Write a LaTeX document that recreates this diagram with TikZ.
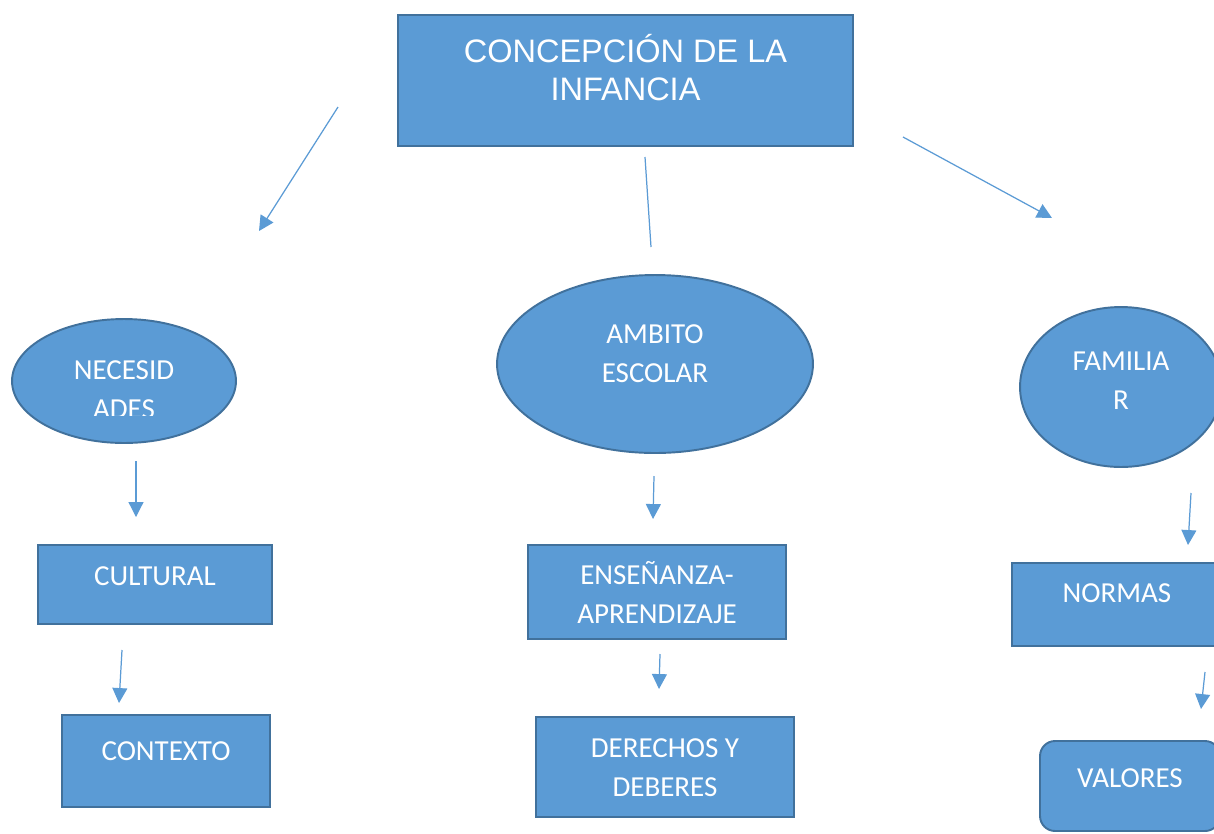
\documentclass[tikz,border=0pt]{standalone}
\usepackage{fontspec}
\setmainfont{Carlito}
\newfontfamily\arialfont{Liberation Sans}
\usetikzlibrary{arrows.meta,shapes.geometric}
\definecolor{boxblue}{HTML}{5B9BD5}
\definecolor{boxedge}{HTML}{41719C}
\tikzset{
	caja/.style={draw=boxedge, fill=boxblue, line width=1.1pt, inner sep=0pt},
	elipse/.style={caja, ellipse},
	rotulo/.style={text=white, font=\fontsize{16.5}{22}\selectfont, align=center, anchor=base},
	flecha/.style={draw=boxblue, line width=0.7pt, -{Triangle[length=8.5pt,width=8.5pt]}},
	linea/.style={draw=boxblue, line width=0.7pt}
}

\begin{document}
\begin{tikzpicture}[x=0.02cm, y=-0.02cm]
		%%%%% START %%%%%
		\clip (0,0) rectangle (1214,833);
		\fill[white] (0,0) rectangle (1214,833);
		
		\node[caja, minimum width=9.1cm, minimum height=2.62cm] (concepcion) at (625.5,80.5) {};
		\node[rotulo, font=\arialfont\fontsize{18.5}{21.6}\selectfont] (concepciontxt) at (625.5,100) {CONCEPCIÓN DE LA\\INFANCIA};
		
		\node[elipse, minimum width=4.48cm, minimum height=2.48cm] (necesidades) at (124,381) {};
		\begin{scope}
			\clip (0,300) rectangle (250,415);
			\node[rotulo] (necesidadestxt) at (124,418) {NECESID\\ADES};
		\end{scope}
		\node[elipse, minimum width=6.32cm, minimum height=3.56cm] (ambito) at (655,364) {};
		\node[rotulo] (ambitotxt) at (655,382) {AMBITO\\ESCOLAR};
		\node[elipse, minimum width=4.04cm, minimum height=3.2cm] (familia) at (1121,387) {};
		\node[rotulo] (familiatxt) at (1121,409) {FAMILIA\\R};
		
		\node[caja, minimum width=4.68cm, minimum height=1.58cm] (cultural) at (155,584.5) {};
		\node[rotulo] (culturaltxt) at (155,585) {CULTURAL};
		\node[caja, minimum width=4.16cm, minimum height=1.84cm] (contexto) at (166,761) {};
		\node[rotulo] (contextotxt) at (166,760) {CONTEXTO};
		
		\node[caja, minimum width=5.16cm, minimum height=1.88cm] (ensenanza) at (657,592) {};
		\node[rotulo] (ensenanzatxt) at (657,623) {ENSEÑANZA-\\APRENDIZAJE};
		\node[caja, minimum width=5.16cm, minimum height=2.0cm] (derechos) at (665,767) {};
		\node[rotulo] (derechostxt) at (665,796) {DERECHOS Y\\DEBERES};
		
		\node[caja, minimum width=4.2cm, minimum height=1.66cm] (normas) at (1117,604.5) {};
		\node[rotulo] (normastxt) at (1117,602) {NORMAS};
		\node[caja, rounded corners=0.3cm, minimum width=3.6cm, minimum height=1.8cm] (valores) at (1130,786) {};
		\node[rotulo] (valorestxt) at (1130,787) {VALORES};
		
		% flechas sueltas
		\coordinate (izqA) at (338,107);   \coordinate (izqB) at (259,231);
		\coordinate (cenA) at (645,157);   \coordinate (cenB) at (651,247);
		\coordinate (derA) at (903,137);   \coordinate (derB) at (1052,218);
		\coordinate (necA) at (136,461);   \coordinate (necB) at (136,517);
		\coordinate (culA) at (122,650);   \coordinate (culB) at (119,703);
		\coordinate (ambA) at (654,476);   \coordinate (ambB) at (653,519);
		\coordinate (ensA) at (660,654);   \coordinate (ensB) at (659,689);
		\coordinate (famA) at (1191,493);  \coordinate (famB) at (1188,545);
		\coordinate (norA) at (1205,672);  \coordinate (norB) at (1201,709);
		
		\draw[flecha] (izqA) -- (izqB);
		\draw[linea] (cenA) -- (cenB);
		\draw[flecha] (derA) -- (derB);
		\draw[flecha] (necA) -- (necB);
		\draw[flecha] (culA) -- (culB);
		\draw[flecha] (ambA) -- (ambB);
		\draw[flecha] (ensA) -- (ensB);
		\draw[flecha] (famA) -- (famB);
		\draw[flecha] (norA) -- (norB);
		
		%%%%% END %%%%%
\end{tikzpicture}
\end{document}
